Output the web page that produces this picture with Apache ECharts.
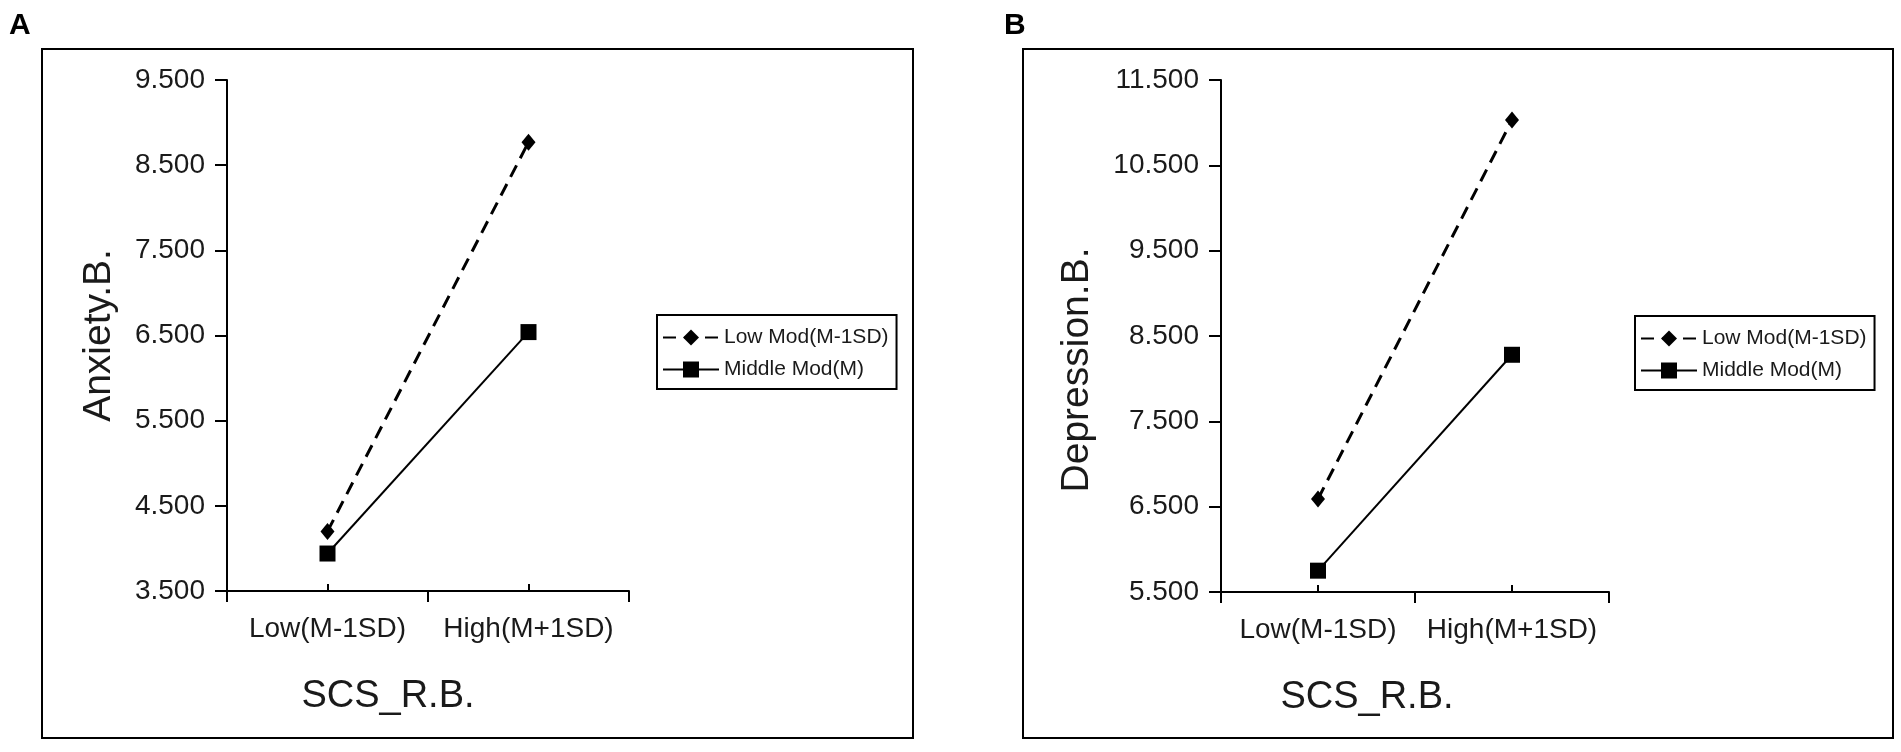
<!DOCTYPE html>
<html>
<head>
<meta charset="utf-8">
<script src="https://cdn.jsdelivr.net/npm/echarts@6/dist/echarts.min.js"></script>
<style>
html,body{margin:0;padding:0;background:#fff;}
#chart{width:1901px;height:752px;}
</style>
</head>
<body>
<div id="chart"></div>
<script>
var categories = ['Low(M-1SD)', 'High(M+1SD)'];
var seriesNames = ['Low Mod(M-1SD)', 'Middle Mod(M)'];
var anxietyLowMod = [4.20, 8.77];
var anxietyMiddleMod = [3.94, 6.54];
var depressionLowMod = [6.59, 11.03];
var depressionMiddleMod = [5.75, 8.28];
var yTicksA = [3.5, 4.5, 5.5, 6.5, 7.5, 8.5, 9.5];
var yTicksB = [5.5, 6.5, 7.5, 8.5, 9.5, 10.5, 11.5];
var panelLabels = ['A', 'B'];
var yNames = ['Anxiety.B.', 'Depression.B.'];
var xName = 'SCS_R.B.';

var FONT = '"Liberation Sans", Arial, Helvetica, sans-serif';
var TXT = '#1a1a1a';

function fmt(v){ return v.toFixed(3); }

function xAxes(gi, shiftPad){
  return [{
    type: 'category', gridIndex: gi, data: categories, boundaryGap: true, position: 'bottom',
    axisLine: {lineStyle: {color: '#000', width: 2}},
    axisTick: {show: true, interval: 0, length: 11, lineStyle: {color: '#000', width: 2}},
    axisLabel: {interval: 0, fontFamily: FONT, fontSize: 28, color: TXT, margin: 24},
    name: xName, nameLocation: 'middle', nameGap: 87,
    nameTextStyle: {fontFamily: FONT, fontSize: 38, color: TXT, padding: [0, shiftPad, 0, 0]}
  }, {
    type: 'category', gridIndex: gi, data: categories, boundaryGap: true, position: 'bottom',
    axisLine: {show: false},
    axisTick: {show: true, inside: true, interval: 0, alignWithLabel: true, length: 7, lineStyle: {color: '#000', width: 2}},
    axisLabel: {show: false, interval: 0}
  }];
}

function yAxis(gi, ticks, name, gap, pad){
  return {
    type: 'value', gridIndex: gi, min: ticks[0], max: ticks[ticks.length - 1],
    splitLine: {show: false},
    axisLine: {show: true, lineStyle: {color: '#000', width: 2}},
    axisTick: {show: true, length: 12, customValues: ticks, lineStyle: {color: '#000', width: 2}},
    axisLabel: {customValues: ticks, formatter: fmt, fontFamily: FONT, fontSize: 28, color: TXT, margin: 22},
    name: name, nameLocation: 'middle', nameRotate: 90, nameGap: gap,
    nameTextStyle: {fontFamily: FONT, fontSize: 39, color: TXT, padding: [0, pad, 0, 0]}
  };
}

function lowSeries(xi, yi, data){
  return {
    name: seriesNames[0], type: 'line', xAxisIndex: xi, yAxisIndex: yi, data: data,
    symbol: 'diamond', symbolSize: [14, 17],
    lineStyle: {color: '#000', width: 3, type: [13, 8]},
    itemStyle: {color: '#000'}, animation: false, z: 3
  };
}
function midSeries(xi, yi, data){
  return {
    name: seriesNames[1], type: 'line', xAxisIndex: xi, yAxisIndex: yi, data: data,
    symbol: 'rect', symbolSize: 16,
    lineStyle: {color: '#000', width: 2, type: 'solid'},
    itemStyle: {color: '#000'}, animation: false, z: 3
  };
}

function legend(left, top){
  return {
    left: left, top: top, orient: 'vertical', data: seriesNames,
    itemWidth: 56, itemHeight: 20, itemGap: 11,
    padding: [12, 8, 9, 5],
    borderColor: '#000', borderWidth: 2, backgroundColor: '#fff',
    textStyle: {fontFamily: FONT, fontSize: 21, color: TXT}
  };
}

var option = {
  backgroundColor: '#fff',
  animation: false,
  title: [
    {text: panelLabels[0], left: 4, top: 6, textStyle: {fontFamily: FONT, fontSize: 30, fontWeight: 'bold', color: '#000'}},
    {text: panelLabels[1], left: 999, top: 6, textStyle: {fontFamily: FONT, fontSize: 30, fontWeight: 'bold', color: '#000'}}
  ],
  graphic: [
    {type: 'rect', shape: {x: 42, y: 49, width: 871, height: 689}, style: {fill: 'none', stroke: '#000', lineWidth: 2}, silent: true, z: 0},
    {type: 'rect', shape: {x: 1023, y: 49, width: 870, height: 689}, style: {fill: 'none', stroke: '#000', lineWidth: 2}, silent: true, z: 0}
  ],
  legend: [legend(657, 315), legend(1635, 316)],
  grid: [
    {left: 227, top: 80, width: 402, height: 511},
    {left: 1221, top: 80, width: 388, height: 512}
  ],
  xAxis: xAxes(0, 80).concat(xAxes(1, 96)),
  yAxis: [
    yAxis(0, yTicksA, yNames[0], 108, 0),
    yAxis(1, yTicksB, yNames[1], 124, 68)
  ],
  series: [
    lowSeries(0, 0, anxietyLowMod),
    midSeries(0, 0, anxietyMiddleMod),
    lowSeries(2, 1, depressionLowMod),
    midSeries(2, 1, depressionMiddleMod)
  ]
};

var chart = echarts.init(document.getElementById('chart'), null, {renderer: 'canvas'});
chart.setOption(option);
</script>
</body>
</html>
